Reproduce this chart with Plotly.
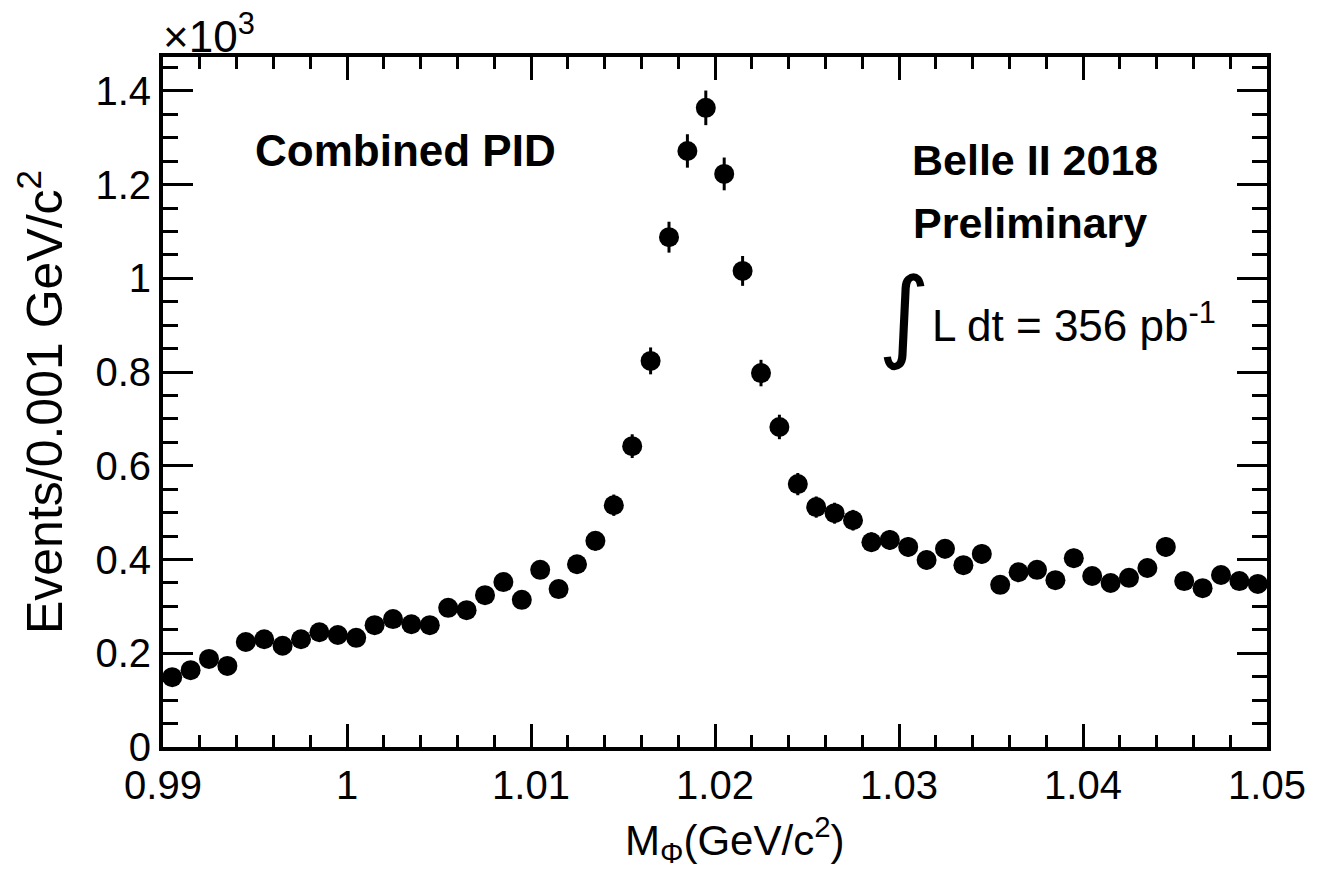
import numpy as np
import plotly.graph_objects as go

# Bin centres (GeV/c^2), bin width 0.001
mass = [0.9905 + 0.001 * i for i in range(60)]

# Events per bin, in units of 10^3
events = [
    0.149, 0.164, 0.188, 0.173, 0.224, 0.230, 0.216, 0.230, 0.245, 0.239,
    0.233, 0.260, 0.273, 0.262, 0.260, 0.297, 0.292, 0.324, 0.352, 0.314,
    0.378, 0.337, 0.390, 0.440, 0.516, 0.642, 0.824, 1.088, 1.272, 1.364,
    1.223, 1.016, 0.798, 0.683, 0.561, 0.512, 0.499, 0.484, 0.437, 0.442,
    0.427, 0.399, 0.423, 0.388, 0.412, 0.346, 0.373, 0.378, 0.356, 0.403,
    0.365, 0.350, 0.361, 0.382, 0.427, 0.354, 0.339, 0.367, 0.354, 0.348,
]

# Poisson errors (sqrt(N)) expressed in units of 10^3
errors = [np.sqrt(v * 1000.0) / 1000.0 for v in events]

x_ticks = [0.99, 1.00, 1.01, 1.02, 1.03, 1.04, 1.05]
y_ticks = [0, 0.2, 0.4, 0.6, 0.8, 1.0, 1.2, 1.4]

FONT = "Liberation Sans, Arial, Helvetica, sans-serif"

# page body has an 8px margin: figure occupies (8,8)-(1318,870)
W, H = 1310, 862
L, R, T, B = 155, 51, 49, 123
PW = W - L - R
PH = H - T - B


def px_x(x):
    """screen pixel x -> paper coordinate"""
    return (x - 8 - L) / PW


def px_y(y):
    """screen pixel y -> paper coordinate"""
    return (H - B - (y - 8)) / PH


fig = go.Figure()
fig.add_trace(go.Scatter(
    x=mass, y=events, mode="markers",
    marker=dict(color="black", size=20, symbol="circle"),
    error_y=dict(type="data", array=errors, visible=True,
                 color="black", thickness=3, width=0),
    showlegend=False,
))

axis_common = dict(
    showline=True, linecolor="black", linewidth=4, mirror="allticks",
    ticks="inside", tickcolor="black", tickwidth=3,
    showgrid=False, zeroline=False, automargin=False,
    tickfont=dict(family=FONT, size=40, color="black"),
)

fig.update_xaxes(
    range=[0.99, 1.05], tickvals=x_ticks, ticklen=23,
    minor=dict(ticks="inside", dtick=0.002, ticklen=12, tickwidth=3,
               tickcolor="black", showgrid=False),
    **axis_common,
)
fig.update_yaxes(
    range=[0, 1.4725], tickvals=y_ticks, ticklen=30,
    minor=dict(ticks="inside", dtick=0.05, ticklen=15, tickwidth=3,
               tickcolor="black", showgrid=False),
    title=dict(text="Events/0.001 GeV/c<sup>2</sup>",
               font=dict(family=FONT, size=50, color="black"), standoff=18),
    **axis_common,
)

annotations = [
    dict(text="M<sub>Φ</sub>(GeV/c<sup>2</sup>)", x=px_x(735), y=px_y(840),
         xref="paper", yref="paper", xanchor="center", yanchor="middle",
         showarrow=False, font=dict(family=FONT, size=42, color="black")),
    dict(text="×10<sup>3</sup>", x=px_x(161), y=1.0, xref="paper", yref="paper",
         xanchor="left", yanchor="bottom", showarrow=False, yshift=-6,
         font=dict(family=FONT, size=44, color="black")),
    dict(text="<b>Combined PID</b>", x=px_x(253), y=px_y(150), xref="paper", yref="paper",
         xanchor="left", yanchor="middle", showarrow=False,
         font=dict(family=FONT, size=44, color="black")),
    dict(text="<b>Belle II 2018</b>", x=px_x(910), y=px_y(160), xref="paper", yref="paper",
         xanchor="left", yanchor="middle", showarrow=False,
         font=dict(family=FONT, size=43, color="black")),
    dict(text="<b>Preliminary</b>", x=px_x(911), y=px_y(223), xref="paper", yref="paper",
         xanchor="left", yanchor="middle", showarrow=False,
         font=dict(family=FONT, size=43, color="black")),
    dict(text="∫", x=px_x(904), y=px_y(314), xref="paper", yref="paper",
         xanchor="center", yanchor="middle", showarrow=False,
         font=dict(family="DejaVu Sans ExtraLight, DejaVu Sans, sans-serif",
                   size=100, color="black")),
    dict(text="L dt = 356 pb<sup>-1</sup>", x=px_x(930), y=px_y(322),
         xref="paper", yref="paper", xanchor="left", yanchor="middle", showarrow=False,
         font=dict(family=FONT, size=44, color="black")),
]

fig.update_layout(
    width=W, height=H,
    margin=dict(l=L, r=R, t=T, b=B, autoexpand=False),
    paper_bgcolor="white", plot_bgcolor="white",
    annotations=annotations,
    font=dict(family=FONT, color="black"),
)

fig.write_html("out.html")
